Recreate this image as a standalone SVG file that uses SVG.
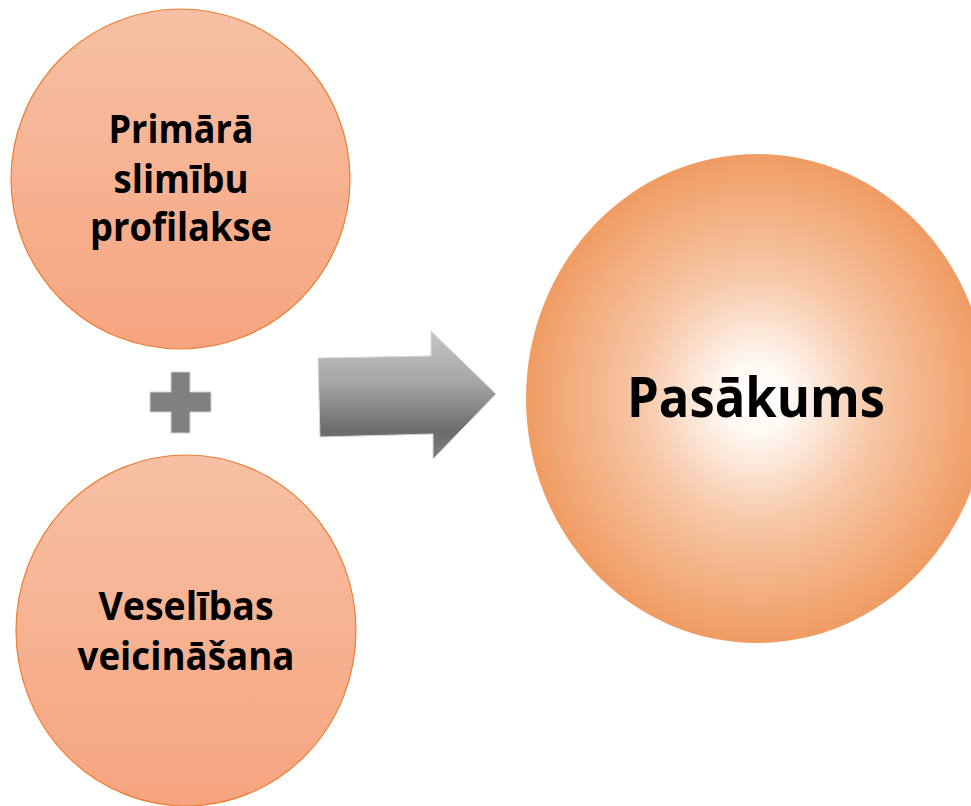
<svg xmlns="http://www.w3.org/2000/svg" width="971" height="806" viewBox="0 0 971 806">
<style>
.small{stroke:#ed7d31;stroke-width:1.2;fill:url(#gSmall)}
.lbl{font-family:"Open Sans","Liberation Sans",sans-serif;font-weight:bold;fill:#000;text-anchor:middle}
</style>
<defs>
<linearGradient id="gSmall" x1="0" y1="0" x2="0" y2="1">
<stop offset="0" stop-color="#f7c0a4"/>
<stop offset="1" stop-color="#f6a47f"/>
</linearGradient>
<radialGradient id="gBig" cx="0.5" cy="0.5" r="0.5">
<stop offset="0" stop-color="#ffffff"/>
<stop offset="0.15" stop-color="#fff8f3"/>
<stop offset="0.5" stop-color="#f7c8a8"/>
<stop offset="1" stop-color="#f09c63"/>
</radialGradient>
<linearGradient id="gArrow" x1="0" y1="331" x2="0" y2="459" gradientUnits="userSpaceOnUse">
<stop offset="0" stop-color="#c6c6c6"/>
<stop offset="0.4" stop-color="#a6a6a6"/>
<stop offset="0.78" stop-color="#6b6b6b"/>
<stop offset="1" stop-color="#7e7e7e"/>
</linearGradient>
</defs>
<g id="node-primara">
<ellipse class="small" cx="180.5" cy="179" rx="169.5" ry="170"/>
<text class="lbl" font-size="39" x="181" y="143" textLength="145" lengthAdjust="spacingAndGlyphs">Primārā</text>
<text class="lbl" font-size="39" x="181" y="193" textLength="135" lengthAdjust="spacingAndGlyphs">slimību</text>
<text class="lbl" font-size="39" x="181" y="241" textLength="182" lengthAdjust="spacingAndGlyphs">profilakse</text>
</g>
<g id="node-plus">
<path d="M171 372 H190 V392 H211 V412 H190 V433 H171 V412 H150 V392 H171 Z" fill="#808080" stroke="#d0d0d0" stroke-width="1"/>
</g>
<g id="node-veselibas">
<ellipse class="small" cx="186" cy="630.5" rx="170" ry="175.5"/>
<text class="lbl" font-size="39" x="186" y="620" textLength="175" lengthAdjust="spacingAndGlyphs">Veselības</text>
<text class="lbl" font-size="39" x="186" y="670" textLength="217" lengthAdjust="spacingAndGlyphs">veicināšana</text>
</g>
<g id="connectors">
<path d="M318 358 L431 356 L431 331 L496 394 L433 459 L433 434 L320 437 Z" fill="url(#gArrow)" stroke="#d8d8d8" stroke-width="1"/>
</g>
<g id="node-pasakums">
<ellipse cx="757" cy="398.5" rx="231" ry="244.5" fill="url(#gBig)"/>
<text class="lbl" font-size="56" x="756" y="417" textLength="258" lengthAdjust="spacingAndGlyphs">Pasākums</text>
</g>
</svg>
